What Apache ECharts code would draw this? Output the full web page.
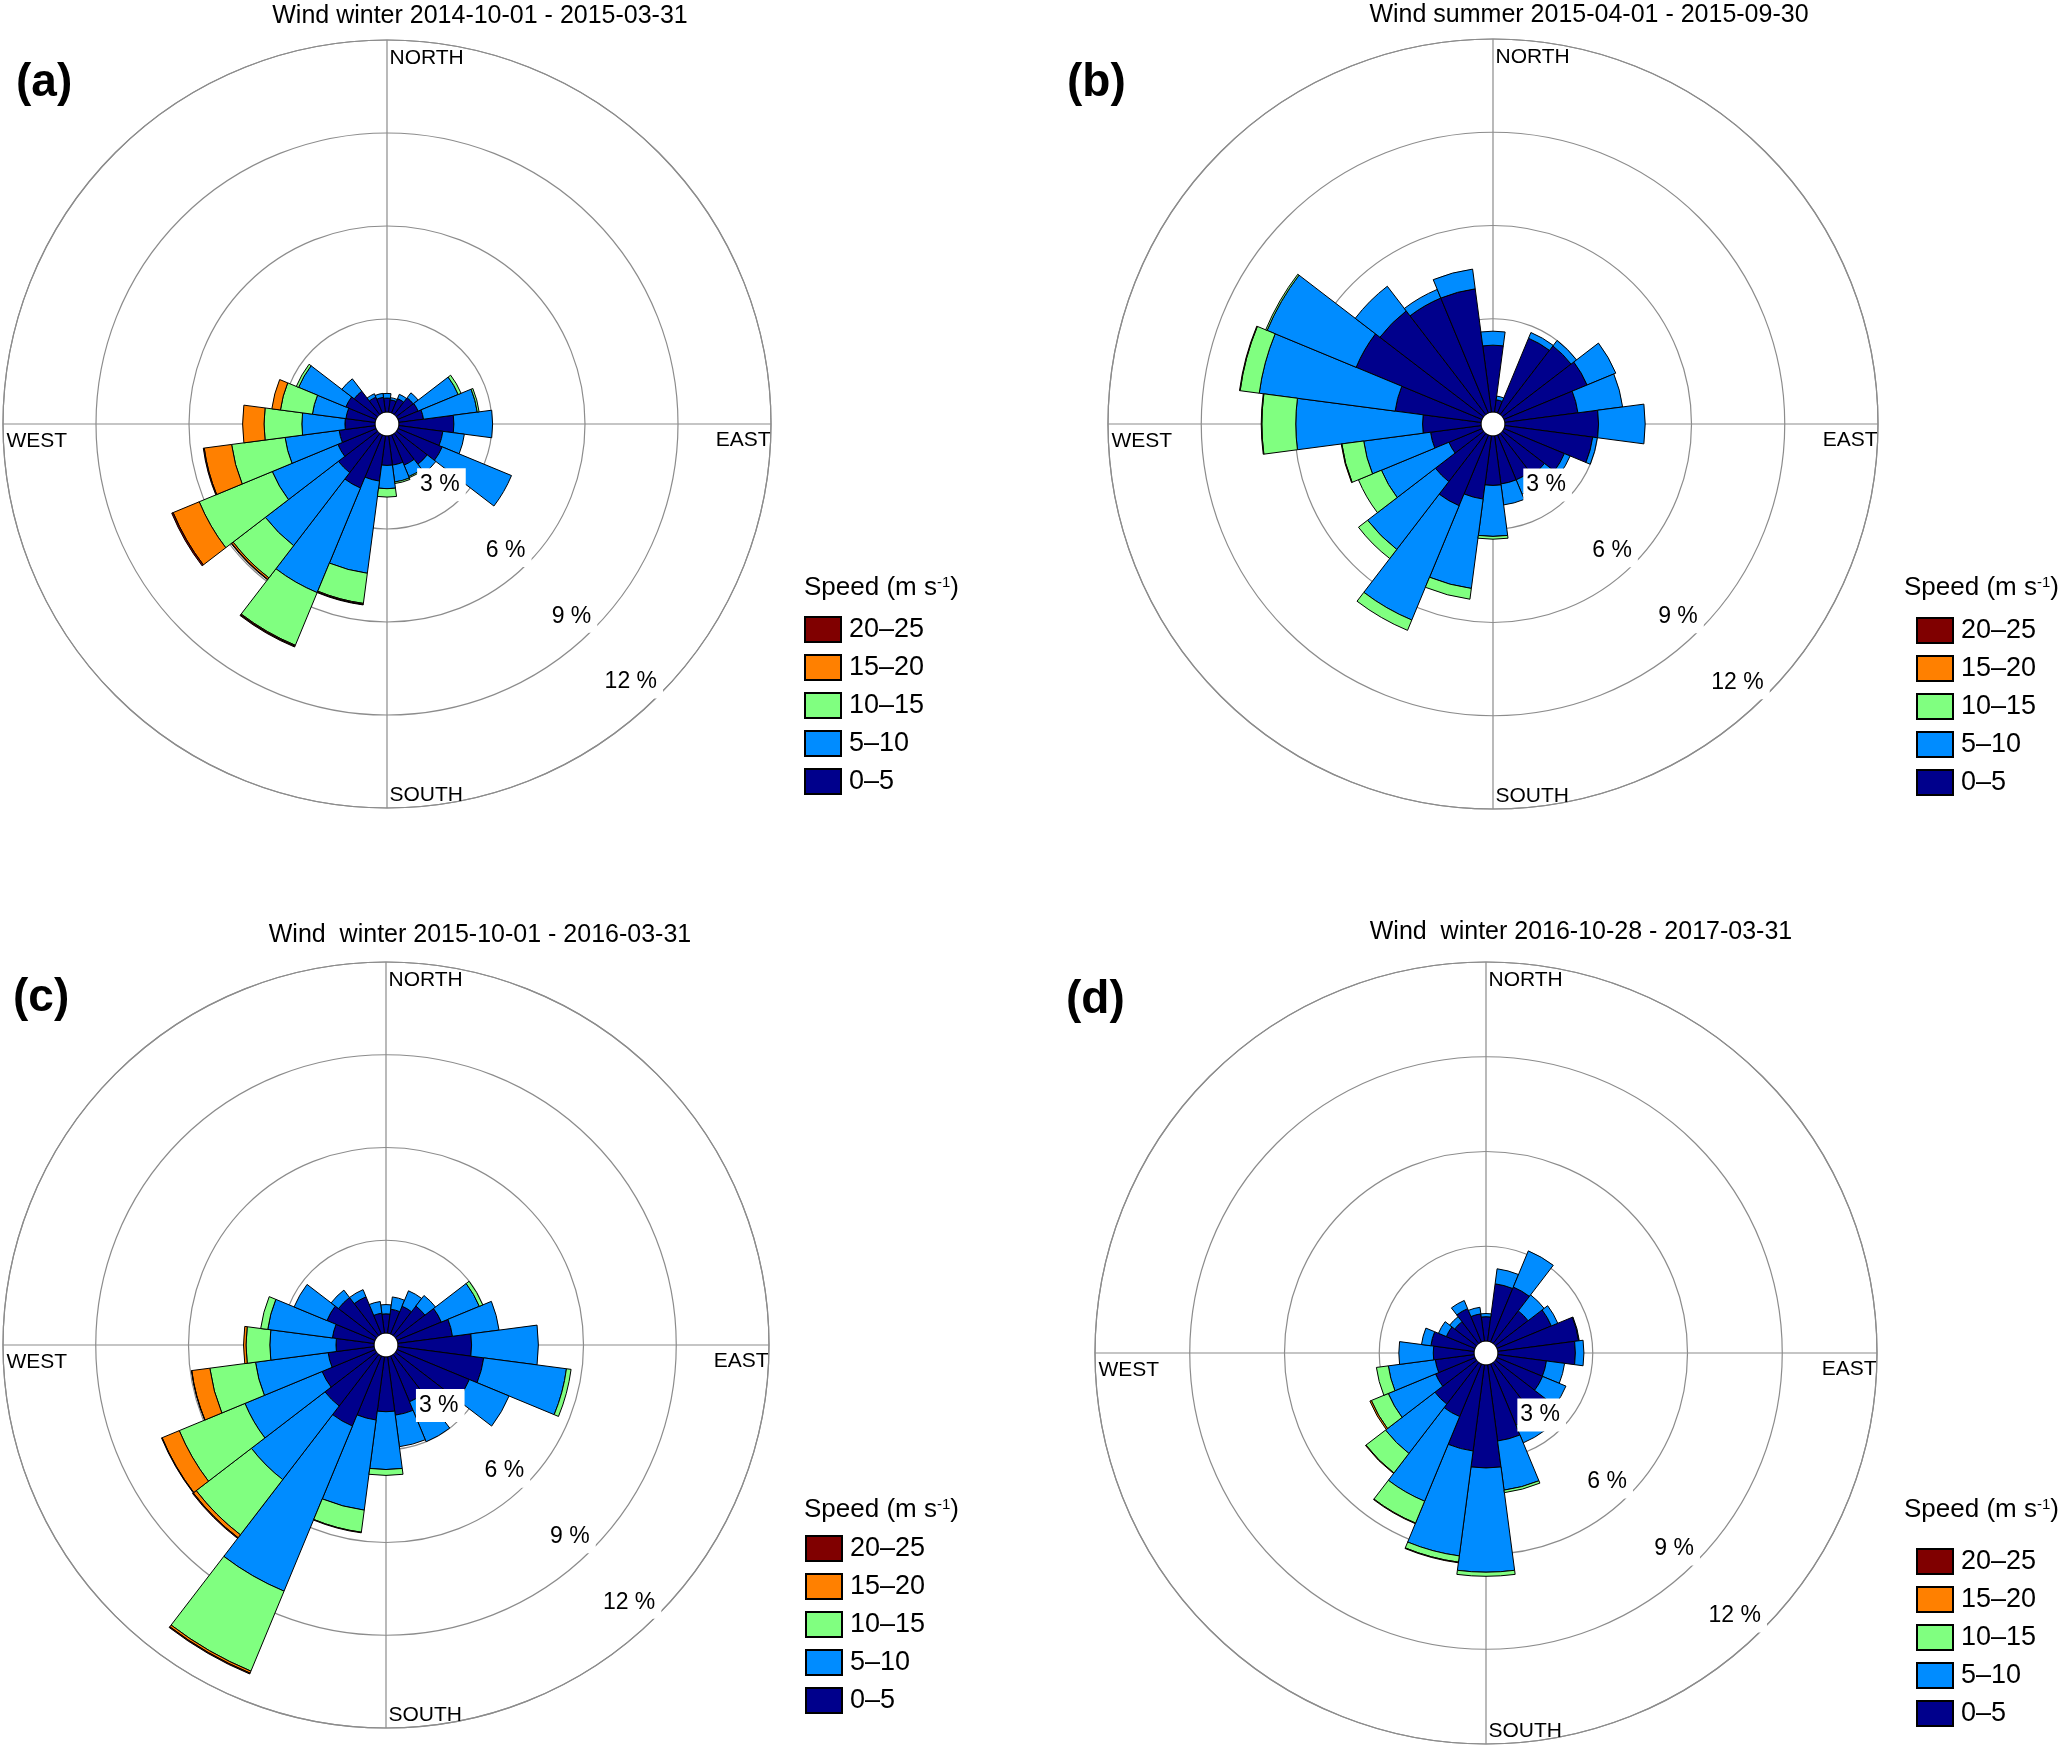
<!DOCTYPE html>
<html>
<head>
<meta charset="utf-8">
<title>Wind roses</title>
<script src="https://cdn.jsdelivr.net/npm/echarts@6/dist/echarts.min.js"></script>
<style>
html, body { margin: 0; padding: 0; background: #fff; }
#chart { width: 2067px; height: 1746px; }
</style>
</head>
<body>
<div id="chart"></div>
<script>
// wind direction bins (degrees, 15 deg sectors)
var directions = ['0', '15', '30', '45', '60', '75', '90', '105', '120', '135', '150', '165',
	'180', '195', '210', '225', '240', '255', '270', '285', '300', '315', '330', '345'];
var speedBins = ['0–5', '5–10', '10–15', '15–20', '20–25'];
var legendOrder = ['20–25', '15–20', '10–15', '5–10', '0–5'];
var binColors = ['#00008c', '#008cff', '#80ff80', '#ff8000', '#800000'];
var tickValues = [3, 6, 9, 12];
var tickLabels = ['3 %', '6 %', '9 %', '12 %'];
var compassNames = ['NORTH', 'EAST', 'SOUTH', 'WEST'];
var compassAngles = [0, 90, 180, 270];
var panelTitles = ['Wind winter 2014-10-01 - 2015-03-31', 'Wind summer 2015-04-01 - 2015-09-30',
	'Wind  winter 2015-10-01 - 2016-03-31', 'Wind  winter 2016-10-28 - 2017-03-31'];
var panelTags = ['(a)', '(b)', '(c)', '(d)'];

// frequency (%) per direction, per speed class
var winter1415_0to5 = [0.45, 0.40, 0.50, 0.68, 0.70, 0.80, 1.77, 1.43, 1.54, 1.25, 1.05, 0.95, 0.95, 1.47, 1.85, 1.59, 1.33, 1.17, 0.97, 0.95, 1.05, 0.95, 0.55, 0.48];
var winter1415_5to10 = [0.15, 0.07, 0.15, 0.20, 1.40, 1.75, 1.25, 0.70, 2.42, 0.35, 0.40, 0.55, 0.75, 3.00, 3.65, 2.97, 2.29, 1.76, 1.39, 1.09, 1.65, 0.50, 0.12, 0.13];
var winter1415_10to15 = [0, 0, 0, 0, 0.10, 0.06, 0, 0, 0, 0, 0.04, 0.05, 0.27, 0.98, 1.84, 1.31, 2.55, 1.74, 1.22, 1.04, 0.08, 0, 0, 0];
var winter1415_15to20 = [0, 0, 0, 0, 0, 0, 0, 0, 0, 0, 0, 0, 0, 0.03, 0.03, 0.06, 0.91, 0.89, 0.69, 0.28, 0, 0, 0, 0];
var winter1415_20to25 = [0, 0, 0, 0, 0, 0, 0, 0, 0, 0, 0, 0, 0, 0.02, 0.03, 0.02, 0.05, 0.03, 0, 0, 0, 0, 0, 0];

var summer15_0to5 = [2.15, 0.40, 2.60, 2.78, 2.89, 2.37, 3.01, 2.85, 2.10, 1.70, 1.56, 1.56, 1.59, 2.05, 2.46, 1.95, 1.15, 1.64, 1.88, 2.79, 4.38, 4.20, 4.00, 4.00];
var summer15_5to10 = [0.45, 0.12, 0.20, 0.22, 1.00, 1.45, 1.50, 0.15, 0.20, 0.30, 0.50, 0.68, 1.64, 2.90, 3.98, 2.75, 2.35, 2.17, 4.08, 4.41, 3.10, 1.00, 0.30, 0.64];
var summer15_10to15 = [0, 0, 0, 0, 0, 0, 0, 0, 0, 0, 0, 0, 0.09, 0.35, 0.36, 0.37, 0.80, 0.71, 1.09, 0.62, 0.05, 0, 0, 0];
var summer15_15to20 = [0, 0, 0, 0, 0, 0, 0, 0, 0, 0, 0, 0, 0, 0, 0, 0, 0, 0.02, 0.02, 0.02, 0, 0, 0, 0];
var summer15_20to25 = [0, 0, 0, 0, 0, 0, 0, 0, 0, 0, 0, 0, 0, 0, 0, 0, 0, 0, 0, 0, 0, 0, 0, 0];

var winter1516_0to5 = [0.62, 0.78, 0.97, 1.20, 1.55, 1.78, 2.38, 2.80, 2.53, 2.00, 1.60, 1.90, 1.77, 2.06, 2.45, 2.10, 1.85, 1.50, 1.23, 1.36, 1.68, 1.55, 1.30, 0.65];
var winter1516_5to10 = [0.30, 0.40, 0.54, 0.43, 1.33, 1.52, 2.16, 2.70, 1.39, 0.50, 1.40, 1.03, 1.87, 2.94, 5.78, 3.00, 2.70, 2.37, 2.14, 2.11, 1.15, 0.30, 0.25, 0.38];
var winter1516_10to15 = [0, 0, 0, 0, 0.12, 0, 0, 0.15, 0, 0, 0, 0, 0.19, 0.72, 2.80, 2.25, 2.30, 1.49, 0.77, 0.23, 0, 0, 0, 0];
var winter1516_15to20 = [0, 0, 0, 0, 0, 0, 0, 0, 0, 0, 0, 0, 0, 0.02, 0.07, 0.12, 0.60, 0.59, 0.08, 0, 0, 0, 0, 0];
var winter1516_20to25 = [0, 0, 0, 0, 0, 0, 0, 0, 0, 0, 0, 0, 0, 0, 0.03, 0.03, 0.02, 0.01, 0, 0, 0, 0, 0, 0];

var winter1617_0to5 = [0.77, 1.83, 1.88, 1.30, 1.86, 2.58, 2.45, 1.55, 1.56, 2.20, 2.10, 2.43, 3.26, 2.75, 1.80, 1.66, 1.35, 1.24, 1.29, 1.38, 0.98, 0.87, 1.14, 0.87];
var winter1617_5to10 = [0.10, 0.48, 1.24, 0.64, 0.22, 0.02, 0.27, 0.58, 0.80, 0.20, 0.60, 1.57, 3.30, 3.35, 2.90, 1.97, 1.62, 1.50, 1.09, 0.30, 0.27, 0.20, 0.28, 0.21];
var winter1617_10to15 = [0, 0, 0, 0, 0, 0, 0, 0, 0, 0, 0, 0.08, 0.13, 0.20, 0.75, 0.78, 0.58, 0.38, 0, 0, 0, 0, 0, 0];
var winter1617_15to20 = [0, 0, 0, 0, 0, 0, 0, 0, 0, 0, 0, 0, 0, 0.02, 0.02, 0.02, 0.05, 0, 0, 0, 0, 0, 0, 0];
var winter1617_20to25 = [0, 0, 0, 0, 0, 0, 0, 0, 0, 0, 0, 0, 0, 0, 0, 0, 0, 0, 0, 0, 0, 0, 0, 0];

var FONT = '"Liberation Sans", Arial, sans-serif';
var HOLE = 12;
var gridLine = { color: '#8c8c8c', width: 1.2 };

// page layout of the four panels (pixels)
var panels = [
	{ center: [387, 424], R: 384, titleX: 480, titleY: 4, tagX: 16, tagY: 60, legX: 804, legY: 616, legTitleX: 804, legTitleY: 575,
		values: [winter1415_0to5, winter1415_5to10, winter1415_10to15, winter1415_15to20, winter1415_20to25] },
	{ center: [1493, 424], R: 385, titleX: 1589, titleY: 3, tagX: 1067, tagY: 60, legX: 1916, legY: 617, legTitleX: 1904, legTitleY: 575,
		values: [summer15_0to5, summer15_5to10, summer15_10to15, summer15_15to20, summer15_20to25] },
	{ center: [386, 1345], R: 383, titleX: 480, titleY: 923, tagX: 13, tagY: 975, legX: 805, legY: 1535, legTitleX: 804, legTitleY: 1497,
		values: [winter1516_0to5, winter1516_5to10, winter1516_10to15, winter1516_15to20, winter1516_20to25] },
	{ center: [1486, 1353], R: 391, titleX: 1581, titleY: 920, tagX: 1066, tagY: 977, legX: 1916, legY: 1548, legTitleX: 1904, legTitleY: 1497,
		values: [winter1617_0to5, winter1617_5to10, winter1617_10to15, winter1617_15to20, winter1617_20to25] }
];

var compassLabelStyle = [
	{ position: [3, 8], align: 'left', verticalAlign: 'top' },
	{ position: [0, 6], align: 'right', verticalAlign: 'top' },
	{ position: [3, -2], align: 'left', verticalAlign: 'bottom' },
	{ position: [4, 7], align: 'left', verticalAlign: 'top' }
];

var option = {
	animation: false,
	backgroundColor: '#fff',
	textStyle: { fontFamily: FONT },
	title: [],
	legend: [],
	polar: [],
	angleAxis: [],
	radiusAxis: [],
	series: []
};

panels.forEach(function(p, i) {
	var gi = 2 * i, di = 2 * i + 1;

	// grid polar: rings and N-S / E-W lines
	option.polar.push({ center: p.center, radius: [HOLE, p.R] });
	option.angleAxis.push({
		polarIndex: gi, type: 'value', min: 0, max: 360, interval: 90, startAngle: 90, clockwise: true,
		axisLine: { show: true, lineStyle: gridLine },
		axisTick: { show: false }, axisLabel: { show: false },
		splitLine: { show: true, lineStyle: gridLine }
	});
	option.radiusAxis.push({
		polarIndex: gi, type: 'value', min: 0, max: 12, interval: 3,
		axisLine: { show: false }, axisTick: { show: false }, axisLabel: { show: false },
		splitLine: { show: true, lineStyle: gridLine }
	});

	// data polar: 24 direction sectors, north centred
	option.polar.push({ center: p.center, radius: [HOLE, p.R] });
	option.angleAxis.push({
		polarIndex: di, type: 'category', data: directions, startAngle: 97.5, clockwise: true, boundaryGap: true,
		axisLine: { show: false }, axisTick: { show: false }, axisLabel: { show: false }, splitLine: { show: false }
	});
	option.radiusAxis.push({
		polarIndex: di, type: 'value', min: 0, max: 12, show: false,
		axisLine: { show: false }, axisTick: { show: false }, axisLabel: { show: false }, splitLine: { show: false }
	});

	for (var b = 0; b < speedBins.length; b++) {
		option.series.push({
			type: 'bar',
			name: speedBins[b],
			coordinateSystem: 'polar',
			polarIndex: di,
			stack: 'rose' + i,
			barCategoryGap: '0%',
			silent: true,
			z: 2,
			itemStyle: { color: binColors[b], borderColor: '#000', borderWidth: 1, opacity: 1 },
			data: p.values[b].map(function(v) { return v > 0 ? v : '-'; })
		});
	}

	// compass names and ring labels
	var labelData = [];
	for (var c = 0; c < compassNames.length; c++) {
		labelData.push({ name: compassNames[c], value: [12, compassAngles[c]], label: compassLabelStyle[c] });
	}
	for (var t = 0; t < tickValues.length; t++) {
		labelData.push({
			name: tickLabels[t],
			value: [tickValues[t], 135],
			label: {
				position: [5, -13], align: 'right', verticalAlign: 'middle',
				backgroundColor: '#ffffff', padding: [8, 6, 2, 3], fontSize: 23, lineHeight: 23
			}
		});
	}
	option.series.push({
		type: 'scatter',
		coordinateSystem: 'polar',
		polarIndex: gi,
		symbolSize: 1,
		silent: true,
		z: 10,
		itemStyle: { color: 'rgba(0,0,0,0)', opacity: 1 },
		label: { show: true, formatter: '{b}', color: '#000', opacity: 1, fontSize: 21, fontFamily: FONT },
		data: labelData
	});

	// texts
	option.title.push({
		text: panelTitles[i], left: p.titleX, top: p.titleY, textAlign: 'center', padding: 0,
		textStyle: { fontSize: 25, fontWeight: 'normal', color: '#000', fontFamily: FONT }
	});
	option.title.push({
		text: panelTags[i], left: p.tagX, top: p.tagY, padding: 0,
		textStyle: { fontSize: 46, fontWeight: 'bold', color: '#000', fontFamily: FONT }
	});
	option.title.push({
		text: 'Speed (m s{sup|-1})', left: p.legTitleX, top: p.legTitleY, padding: 0,
		textStyle: {
			fontSize: 26, fontWeight: 'normal', color: '#000', fontFamily: FONT,
			rich: { sup: { fontSize: 15, lineHeight: 15, verticalAlign: 'top', color: '#000', fontFamily: FONT } }
		}
	});
	option.legend.push({
		orient: 'vertical', left: p.legX, top: p.legY, padding: 0,
		itemWidth: 36, itemHeight: 25, itemGap: 11, icon: 'rect', selectedMode: false,
		data: legendOrder,
		textStyle: { fontSize: 27, lineHeight: 25, color: '#000', fontFamily: FONT, padding: [0, 0, 0, 3] }
	});
});

var chart = echarts.init(document.getElementById('chart'));
chart.setOption(option);
</script>
</body>
</html>
